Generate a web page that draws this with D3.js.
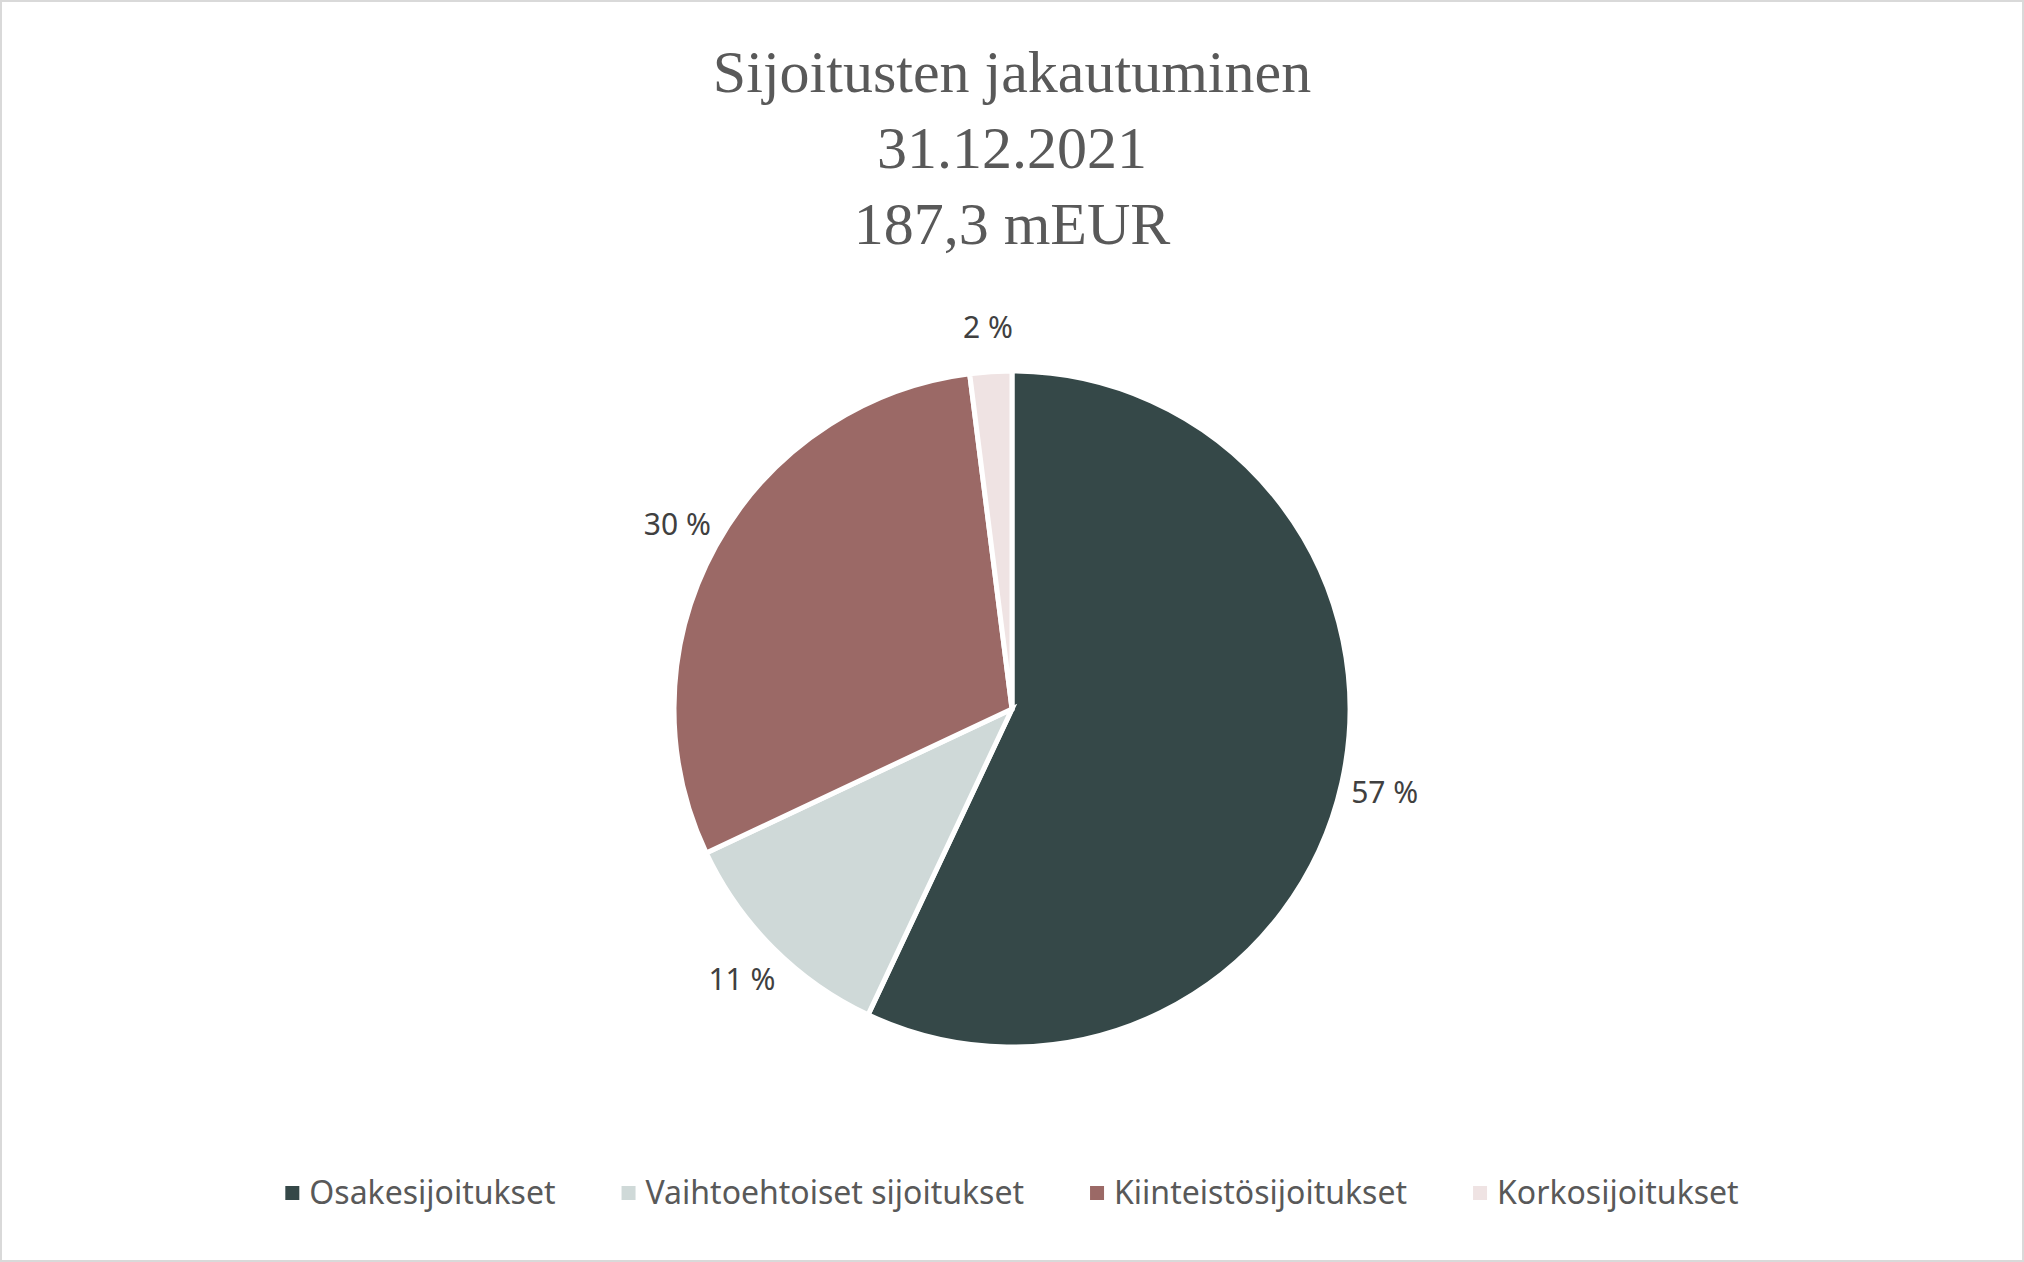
<!DOCTYPE html><html><head><meta charset="utf-8"><script src="https://cdn.jsdelivr.net/npm/d3@7"></script>
<style>body{margin:0;background:#fff}</style></head><body><svg id="c" width="2024" height="1262"></svg>
<script>
const categories=["Osakesijoitukset","Vaihtoehtoiset sijoitukset","Kiinteistösijoitukset","Korkosijoitukset"];
const values=[57,11,30,2];
const colors=["#354848","#cfd9d8","#9b6966","#efe3e3"];
const titleLines=["Sijoitusten jakautuminen","31.12.2021","187,3 mEUR"];
const svg=d3.select("#c");
svg.append("rect").attr("x",1).attr("y",1).attr("width",2022).attr("height",1260).attr("fill","#fff").attr("stroke","#d9d9d9").attr("stroke-width",2);
svg.selectAll("text.t").data(titleLines).join("text").attr("x",1012).attr("y",(d,i)=>92+i*76)
 .attr("text-anchor","middle").attr("font-family","Liberation Serif, serif").attr("font-size",60).attr("fill","#595959").text(d=>d);
const cx=1012,cy=709,r=338;
const pie=d3.pie().sort(null)(values);
const arc=d3.arc().innerRadius(0).outerRadius(r);
const g=svg.append("g").attr("transform",`translate(${cx},${cy})`);
g.selectAll("path").data(pie).join("path").attr("d",arc).attr("fill",(d,i)=>colors[i]).attr("stroke","#fff").attr("stroke-width",5);
const la=d3.arc().innerRadius(r*1.13).outerRadius(r*1.13);
g.selectAll("text").data(pie).join("text").attr("transform",d=>`translate(${la.centroid(d)})`)
 .attr("text-anchor","middle").attr("dy","0.35em").attr("font-family","Noto Sans, sans-serif").attr("font-size",30).attr("fill","#404040").text(d=>d.data+" %");
const lg=svg.append("g");
const items=categories.map((c,i)=>{const t=lg.append("text").attr("font-family","Noto Sans, sans-serif").attr("font-size",32).attr("fill","#595959").attr("y",1204).text(c);return {t,w:t.node().getComputedTextLength(),i};});
const gap=66,mk=14,mg=10;
let total=items.reduce((s,o)=>s+mk+mg+o.w,0)+gap*3;
let x=1012-total/2;
items.forEach(o=>{lg.append("rect").attr("x",x).attr("y",1186).attr("width",mk).attr("height",mk).attr("fill",colors[o.i]);o.t.attr("x",x+mk+mg);x+=mk+mg+o.w+gap;});
</script></body></html>
